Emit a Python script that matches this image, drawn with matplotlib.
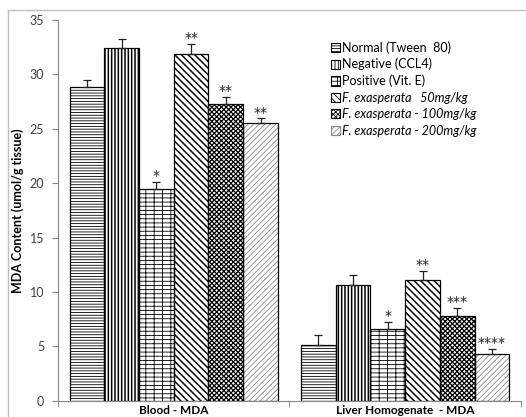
import numpy as np
import matplotlib.pyplot as plt
from matplotlib.lines import Line2D
from matplotlib.patches import Patch

plt.rcParams['font.family'] = ['Lato', 'DejaVu Sans']
plt.rcParams['hatch.linewidth'] = 0.6

# data
groups = ['Blood - MDA', 'Liver Homogenate  - MDA']
series = ['Normal (Tween  80)', 'Negative (CCL4)', 'Positive (Vit. E)',
          'F. exasperata   50mg/kg', 'F. exasperata - 100mg/kg',
          'F. exasperata - 200mg/kg']
blood = [28.8, 32.4, 19.45, 31.9, 27.25, 25.55]
blood_err = [0.7, 0.85, 0.65, 0.9, 0.7, 0.4]
liver = [5.15, 10.65, 6.6, 11.1, 7.8, 4.3]
liver_err = [0.85, 0.9, 0.65, 0.85, 0.7, 0.5]
blood_stars = ['', '', '*', '**', '**', '**']
liver_stars = ['', '', '*', '**', '***', '****']

hatches = ['-' * 6, '|' * 5, '++--', '\\' * 5, 'x' * 7, '/' * 6]
hatch_cols = ['black', 'black', 'black', 'black', 'black', '#8a8a8a']
hatch_lw = [0.6, 1.1, 0.6, 1.05, 0.9, 0.6]

fig = plt.figure(figsize=(5.26, 4.17), dpi=100)
ax = fig.add_axes([0.1103, 0.039, 0.880, 0.913])

# outer chart frame (top and left edges visible)
fig.add_artist(Line2D([8/526, 1], [1 - 10/417, 1 - 10/417], color='#c0c0c0', lw=1))
fig.add_artist(Line2D([8/526, 8/526], [0, 1 - 10/417], color='#c0c0c0', lw=1))

vals = np.array([blood, liver])
errs = np.array([blood_err, liver_err])
stars = [blood_stars, liver_stars]
x = np.arange(len(groups))
w = 0.15


def set_hlw(p, lw):
    if hasattr(p, 'set_hatch_linewidth'):
        p.set_hatch_linewidth(lw)


handles = []
for j in range(len(series)):
    xs = x + (j - 2.5) * w
    with plt.rc_context({'hatch.linewidth': hatch_lw[j]}):
        bars = ax.bar(xs, vals[:, j], w, color='white', edgecolor=hatch_cols[j],
                      hatch=hatches[j], linewidth=0, zorder=2)
        hp = Patch(facecolor='white', edgecolor=hatch_cols[j],
                   hatch=hatches[j], linewidth=0.8, label=series[j])
    for b in bars:
        set_hlw(b, hatch_lw[j])
    set_hlw(hp, hatch_lw[j])
    handles.append(hp)
    ax.bar(xs, vals[:, j], w, fill=False, edgecolor='black', linewidth=0.9, zorder=3)
    ax.errorbar(xs, vals[:, j], yerr=[np.zeros(len(groups)), errs[:, j]],
                fmt='none', ecolor='#222222', elinewidth=0.9, capsize=3,
                capthick=0.9, zorder=4)
    for i in range(len(groups)):
        s = stars[i][j]
        if s:
            ax.text(xs[i], vals[i, j] + errs[i, j] - 0.1, s, ha='center',
                    va='bottom', fontsize=10, color='#222222',
                    family='DejaVu Sans')

ax.set_xlim(-0.5, 1.5)
ax.set_ylim(0, 35)
ax.set_yticks(np.arange(0, 36, 5))
ax.set_xticks(x)
ax.set_xticklabels(groups, fontweight='bold', fontsize=8.5)
ax.set_xticks([-0.5, 0.5, 1.5], minor=True)
ax.tick_params(axis='x', which='major', length=0, pad=3)
ax.tick_params(axis='x', which='minor', length=4, color='#868686')
ax.tick_params(axis='y', length=4, color='#868686', labelcolor='#404040',
               labelsize=9, pad=6)
for side in ['top', 'right']:
    ax.spines[side].set_visible(False)
for side in ['left', 'bottom']:
    ax.spines[side].set_color('#868686')
ax.set_ylabel('MDA Content (umol/g tissue)', fontweight='bold', fontsize=9)

leg = ax.legend(handles=handles, loc='upper left',
                bbox_to_anchor=(331/526, 1 - 41/417),
                bbox_transform=fig.transFigure, frameon=False, fontsize=9,
                handlelength=0.75, handleheight=0.75, handletextpad=0.15,
                labelspacing=0.35, borderpad=0, borderaxespad=0)
for t in leg.get_texts()[3:]:
    t.set_style('italic')

fig.savefig('out.png', dpi=100)
